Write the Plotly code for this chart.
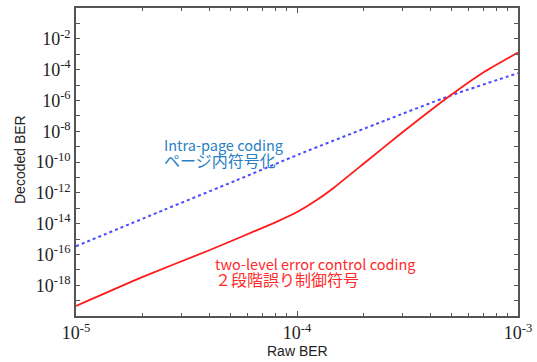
import plotly.graph_objects as go

# Data (log10 values)
blue_logx = [-5.0, -4.6, -4.276, -3.986, -3.6, -3.308, -3.0]
blue_logy = [-15.47, -13.1, -11.2, -9.47, -7.3, -5.70, -4.23]
red_logx = [-5.0, -4.698, -4.397, -4.095, -4.0, -3.914, -3.836, -3.685, -3.534, -3.308, -3.157, -3.0]
red_logy = [-19.35, -17.46, -15.73, -13.90, -13.25, -12.5, -11.7, -9.95, -8.2, -5.70, -4.19, -2.89]

blue_x = [10 ** v for v in blue_logx]
blue_y = [10 ** v for v in blue_logy]
red_x = [10 ** v for v in red_logx]
red_y = [10 ** v for v in red_logy]

x_major = [-5, -4, -3]
y_all = list(range(-20, 1))
y_labeled = list(range(-18, -1, 2))

fig = go.Figure()
fig.add_trace(go.Scatter(x=blue_x, y=blue_y, mode="lines", line=dict(color="#4a4aff", width=2, dash="dot", shape="spline", smoothing=0.6), showlegend=False))
fig.add_trace(go.Scatter(x=red_x, y=red_y, mode="lines", line=dict(color="#ff1a1a", width=1.8, shape="spline", smoothing=0.5), showlegend=False))

serif = "Liberation Serif"
sans = "Noto Sans CJK JP"

xminor = [m * 10 ** e for e in (-5, -4) for m in range(2, 10)]

fig.update_xaxes(
    type="log", range=[-5, -3], automargin=False, ticklabeloverflow="allow",
    tickvals=[10 ** e for e in x_major],
    ticktext=[f"10<sup>{e}</sup>" for e in x_major],
    ticks="inside", ticklen=5, tickcolor="#555", tickwidth=1,
    minor=dict(tickvals=xminor, ticks="inside", ticklen=3, tickcolor="#555"),
    showline=True, linecolor="#555", linewidth=1.5, mirror="allticks",
    showgrid=False, zeroline=False,
    tickfont=dict(family=serif, size=18, color="#222"),
)
fig.update_yaxes(
    type="log", range=[-20, 0], automargin=False, ticklabeloverflow="allow",
    tickvals=[10 ** e for e in y_all],
    ticktext=[f"10<sup>{e}</sup>" if e in y_labeled else "" for e in y_all],
    ticks="inside", ticklen=4, tickcolor="#555", tickwidth=1,
    showline=True, linecolor="#555", linewidth=1.5, mirror="allticks",
    showgrid=False, zeroline=False,
    tickfont=dict(family=serif, size=18, color="#222"),
)

# screen pixel -> paper (plot area spans x 76..518, y 8..316)
def px2paper(px, py):
    return (px - 76) / 442.0, (316 - py) / 308.0

anns = [
    ("Intra-page coding", "ページ内符号化", 162, 132, "#2a7fc4"),
    ("two-level error control coding", "２段階誤り制御符号", 213, 251, "#ff2a2a"),
]
for t1, t2, px, py, col in anns:
    ax, ay = px2paper(px, py)
    text = f'<span style="font-size:14.5px">{t1}</span><br><span style="font-size:16px">{t2}</span>'
    fig.add_annotation(x=ax, y=ay, xref="paper", yref="paper", text=text, showarrow=False, align="left",
                       xanchor="left", yanchor="top", font=dict(family=sans, size=12.5, color=col))

# axis titles
tx, ty = px2paper(297, 351)
fig.add_annotation(x=tx, y=ty, xref="paper", yref="paper", text="Raw BER", showarrow=False,
                   xanchor="center", yanchor="middle", font=dict(family="Liberation Sans", size=14, color="#222"))
tx, ty = px2paper(20, 160)
fig.add_annotation(x=tx, y=ty, xref="paper", yref="paper", text="Decoded BER", showarrow=False, textangle=-90,
                   xanchor="center", yanchor="middle", font=dict(family="Liberation Sans", size=14, color="#222"))

fig.update_layout(
    width=537, height=362,
    margin=dict(l=76, r=19, t=8, b=46, autoexpand=False),
    paper_bgcolor="white", plot_bgcolor="white",
)

# remove the default 8px page margin so the figure fills the window exactly
fig.write_html("out.html", config={"displayModeBar": False},
               post_script="document.body.style.margin='0px';")
